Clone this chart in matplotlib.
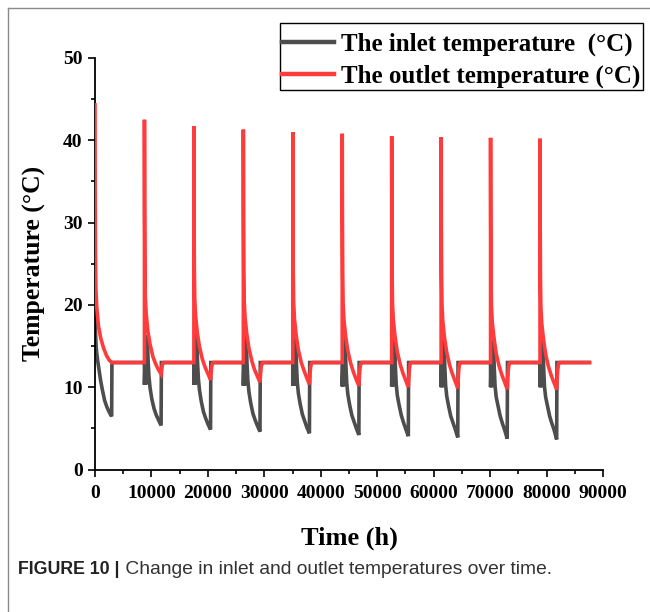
import matplotlib
matplotlib.use('Agg')
import matplotlib.pyplot as plt
from matplotlib.lines import Line2D
from matplotlib.patches import Rectangle

# 각 주기의 시작 시각 (h)
cycle_start = [0, 8760, 17520, 26280, 35040, 43800, 52560, 61320, 70080, 78840]
t_end = 87600

# 입구 온도: 주기 안의 시간 오프셋 (h) 과 주기별 값 (°C)
in_offset = [0, 1, 100, 200, 300, 400, 500, 650, 800, 1000, 1300, 1700, 2100, 2500, 2950, 3000]
inlet = [
    [19.7, 19.7, 16.5, 15.0, 14.2, 13.6, 13.1, 12.4, 11.7, 10.8, 9.7, 8.4, 7.6, 7.0, 6.45, 13.0],
    [13.0, 10.3, 12.8, 10.3, 12.8, 10.5, 16.3, 13.2, 11.3, 9.9, 8.6, 7.4, 6.6, 6.0, 5.35, 13.0],
    [13.0, 10.3, 12.8, 10.3, 12.8, 10.5, 16.3, 13.0, 11.0, 9.6, 8.3, 7.0, 6.2, 5.5, 4.85, 13.0],
    [13.0, 10.2, 12.8, 10.2, 12.8, 10.4, 16.2, 12.9, 10.8, 9.4, 8.1, 6.8, 6.0, 5.3, 4.6, 13.0],
    [13.0, 10.2, 12.8, 10.2, 12.8, 10.4, 16.2, 12.8, 10.6, 9.2, 8.0, 6.7, 5.9, 5.1, 4.4, 13.0],
    [13.0, 10.1, 12.8, 10.1, 12.8, 10.3, 16.1, 12.7, 10.5, 9.1, 7.9, 6.6, 5.8, 5.0, 4.2, 13.0],
    [13.0, 10.1, 12.8, 10.1, 12.8, 10.3, 16.1, 12.6, 10.4, 9.0, 7.9, 6.6, 5.7, 4.9, 4.05, 13.0],
    [13.0, 10.0, 12.8, 10.0, 12.8, 10.2, 16.0, 12.5, 10.2, 8.9, 7.8, 6.5, 5.7, 4.9, 3.9, 13.0],
    [13.0, 10.0, 12.8, 10.0, 12.8, 10.2, 16.0, 12.4, 10.1, 8.8, 7.8, 6.5, 5.6, 4.8, 3.75, 13.0],
    [13.0, 10.0, 12.8, 10.0, 12.8, 10.2, 16.0, 12.3, 10.0, 8.8, 7.8, 6.5, 5.6, 4.8, 3.65, 13.0],
]

# 출구 온도: 주기 안의 시간 오프셋 (h) 과 주기별 값 (°C)
out_offset = [0, 1, 30, 80, 150, 300, 600, 1000, 1500, 2000, 2500, 2950, 3050, 3150, 3300, 3500]
outlet = [
    [44.3, 44.3, 33.0, 26.0, 22.0, 19.8, 17.5, 16.0, 14.8, 13.9, 13.3, 13.0, 13.0, 13.0, 13.0, 13.0],
    [13.0, 42.5, 32.0, 25.0, 21.0, 19.0, 16.8, 15.2, 13.7, 12.8, 12.1, 11.6, 12.2, 12.7, 12.95, 13.0],
    [13.0, 41.7, 31.5, 24.5, 20.7, 18.7, 16.6, 14.9, 13.4, 12.4, 11.6, 10.9, 11.8, 12.5, 12.9, 13.0],
    [13.0, 41.3, 31.0, 24.0, 20.5, 18.5, 16.5, 14.7, 13.2, 12.1, 11.3, 10.6, 11.6, 12.4, 12.9, 13.0],
    [13.0, 41.0, 31.0, 24.0, 20.3, 18.3, 16.3, 14.5, 13.0, 12.0, 11.1, 10.35, 11.5, 12.4, 12.9, 13.0],
    [13.0, 40.8, 30.5, 23.8, 20.2, 18.2, 16.2, 14.4, 12.9, 11.8, 10.9, 10.15, 11.4, 12.3, 12.9, 13.0],
    [13.0, 40.5, 30.5, 23.6, 20.1, 18.1, 16.1, 14.3, 12.8, 11.7, 10.8, 10.0, 11.3, 12.3, 12.9, 13.0],
    [13.0, 40.4, 30.2, 23.5, 20.0, 18.0, 16.0, 14.2, 12.7, 11.6, 10.7, 9.85, 11.3, 12.3, 12.9, 13.0],
    [13.0, 40.3, 30.1, 23.4, 19.9, 17.9, 16.0, 14.1, 12.6, 11.5, 10.6, 9.75, 11.2, 12.2, 12.9, 13.0],
    [13.0, 40.2, 30.0, 23.3, 19.8, 17.8, 15.9, 14.0, 12.5, 11.4, 10.5, 9.7, 11.2, 12.2, 12.9, 13.0],
]

x_ticks = [0, 10000, 20000, 30000, 40000, 50000, 60000, 70000, 80000, 90000]
y_ticks = [0, 10, 20, 30, 40, 50]
label_in = 'The inlet temperature  (°C)'
label_out = 'The outlet temperature (°C)'
caption_bold = 'FIGURE 10 |'
caption_text = ' Change in inlet and outlet temperatures over time.'

grey = '#4d4d4d'
red = '#ff3b3b'

# 주기별 점들을 하나의 시계열로 이어 붙임
t_in, v_in, t_out, v_out = [], [], [], []
for k, t0 in enumerate(cycle_start):
    t_in += [t0 + o for o in in_offset]
    v_in += inlet[k]
    t_out += [t0 + o for o in out_offset]
    v_out += outlet[k]
t_in.append(t_end)
v_in.append(13.0)
t_out.append(t_end)
v_out.append(13.0)

plt.rcParams['font.family'] = ['Liberation Serif', 'DejaVu Serif']
plt.rcParams['font.weight'] = 'bold'

W, H = 650, 612
fig = plt.figure(figsize=(6.5, 6.12), dpi=100)
ax = fig.add_axes([95 / W, 1 - 469.5 / H, (603 - 95) / W, (469.5 - 58) / H])

ax.plot(t_in, v_in, color=grey, lw=2.6, solid_joinstyle='miter', zorder=2)
ax.plot(t_out, v_out, color=red, lw=2.6, solid_joinstyle='miter', zorder=3)

ax.set_xlim(0, 90000)
ax.set_ylim(0, 50)
ax.set_xticks(x_ticks)
ax.set_yticks(y_ticks)
ax.set_xticks(range(5000, 90000, 10000), minor=True)
ax.set_yticks(range(5, 50, 10), minor=True)
ax.set_xticklabels([str(v) for v in x_ticks])
ax.tick_params(which='major', direction='out', length=5, width=1.2, labelsize=14, pad=4)
ax.tick_params(axis='x', which='major', pad=6)
ax.tick_params(which='minor', direction='out', length=3, width=1.2)
for lab in ax.get_xticklabels() + ax.get_yticklabels():
    lab.set_fontweight('bold')
ax.spines['top'].set_visible(False)
ax.spines['right'].set_visible(False)
ax.spines['left'].set_linewidth(1.3)
ax.spines['bottom'].set_linewidth(1.3)

ax.set_xlabel('Time (h)', fontsize=19, fontweight='bold', labelpad=18)
ax.set_ylabel('Temperature (°C)', fontsize=18.5, fontweight='bold', labelpad=12)

# 범례 (축 바깥 오른쪽 위까지 걸침) - 테두리는 따로 그림
handles = [Line2D([], [], color=grey, lw=3.2), Line2D([], [], color=red, lw=3.2)]
leg = fig.legend(handles, [label_in, label_out], loc='upper right',
                 bbox_to_anchor=(643 / W, 1 - 30 / H), bbox_transform=fig.transFigure,
                 prop={'family': 'Liberation Serif', 'weight': 'bold', 'size': 18},
                 handlelength=2.1, handletextpad=0.25, borderpad=0.12, labelspacing=0.32,
                 frameon=False, borderaxespad=0)
fig.add_artist(Rectangle((280 / W, 1 - 90 / H), (643 - 280) / W, (90 - 23) / H,
                         transform=fig.transFigure, fill=False, edgecolor='black', lw=1.0))

# 논문 그림 테두리
fig.add_artist(Line2D([8 / W, 8 / W], [0, 1 - 8 / H], color='#8a8a8a', lw=1.0))
fig.add_artist(Line2D([8 / W, 1], [1 - 8 / H, 1 - 8 / H], color='#8a8a8a', lw=1.0))

# 캡션
cap1 = fig.text(18 / W, 1 - 574 / H, caption_bold, family='Liberation Sans',
                weight='bold', fontsize=12.8, color='#222222')
fig.canvas.draw()
bb = cap1.get_window_extent(fig.canvas.get_renderer())
fig.text(bb.x1 / fig.bbox.width, 1 - 574 / H, caption_text, family='Liberation Sans',
         weight='normal', fontsize=13.9, color='#333333')

fig.savefig('out.png', dpi=100)
